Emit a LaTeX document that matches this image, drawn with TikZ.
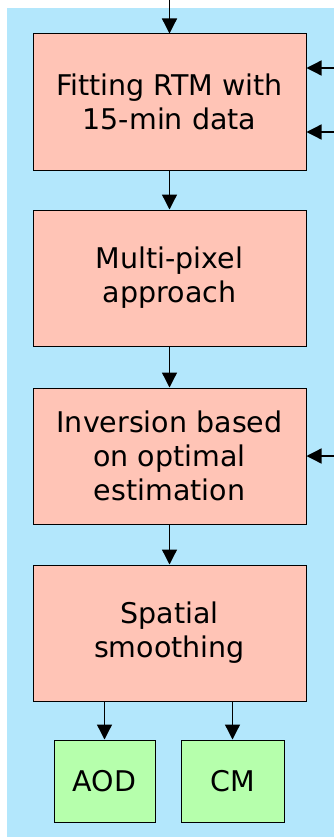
\documentclass[tikz,border=0pt]{standalone}
\usepackage{fontspec}
\setmainfont{DejaVu Sans}
\usetikzlibrary{arrows.meta}
\definecolor{bgblue}{RGB}{179,231,252}
\definecolor{pinkbox}{RGB}{255,196,182}
\definecolor{greenbox}{RGB}{182,255,172}
\tikzset{
  procbox/.style={draw=black, line width=1pt, fill=pinkbox, minimum width=273pt, minimum height=136pt, inner sep=0pt, align=center, font=\fontsize{28.5}{34}\selectfont},
  outbox/.style={draw=black, line width=1pt, fill=greenbox, minimum height=82pt, inner sep=0pt, align=center, font=\fontsize{28.5}{34}\selectfont},
  flow/.style={line width=1.3pt, -{Triangle[width=15pt,length=15pt]}}
}
\begin{document}
\begin{tikzpicture}[x=1pt,y=-1pt]
\useasboundingbox (0,0) rectangle (334,840);
\fill[bgblue] (7,8) rectangle (334,837);
\node[procbox] (fit) at (169.5,102) {Fitting RTM with\\15-min data};
\node[procbox] (multi) at (169.5,278) {Multi-pixel\\approach};
\node[procbox] (inv) at (169.5,456) {Inversion based\\on optimal\\estimation};
\node[procbox] (smooth) at (169.5,633) {Spatial\\smoothing};
\node[outbox, minimum width=101pt] (aod) at (104.5,781) {AOD};
\node[outbox, minimum width=103pt] (cm) at (232.5,781) {CM};
\coordinate (top) at (169.5,0);
\coordinate (r1) at (334,68);
\coordinate (r2) at (334,132);
\coordinate (r3) at (334,456);
\draw[flow] (top) -- (fit);
\draw[flow] (r1) -- (r1 -| fit.east);
\draw[flow] (r2) -- (r2 -| fit.east);
\draw[flow] (fit) -- (multi);
\draw[flow] (multi) -- (inv);
\draw[flow] (r3) -- (inv);
\draw[flow] (inv) -- (smooth);
\draw[flow] (smooth.south -| aod) -- (aod);
\draw[flow] (smooth.south -| cm) -- (cm);
\end{tikzpicture}
\end{document}
